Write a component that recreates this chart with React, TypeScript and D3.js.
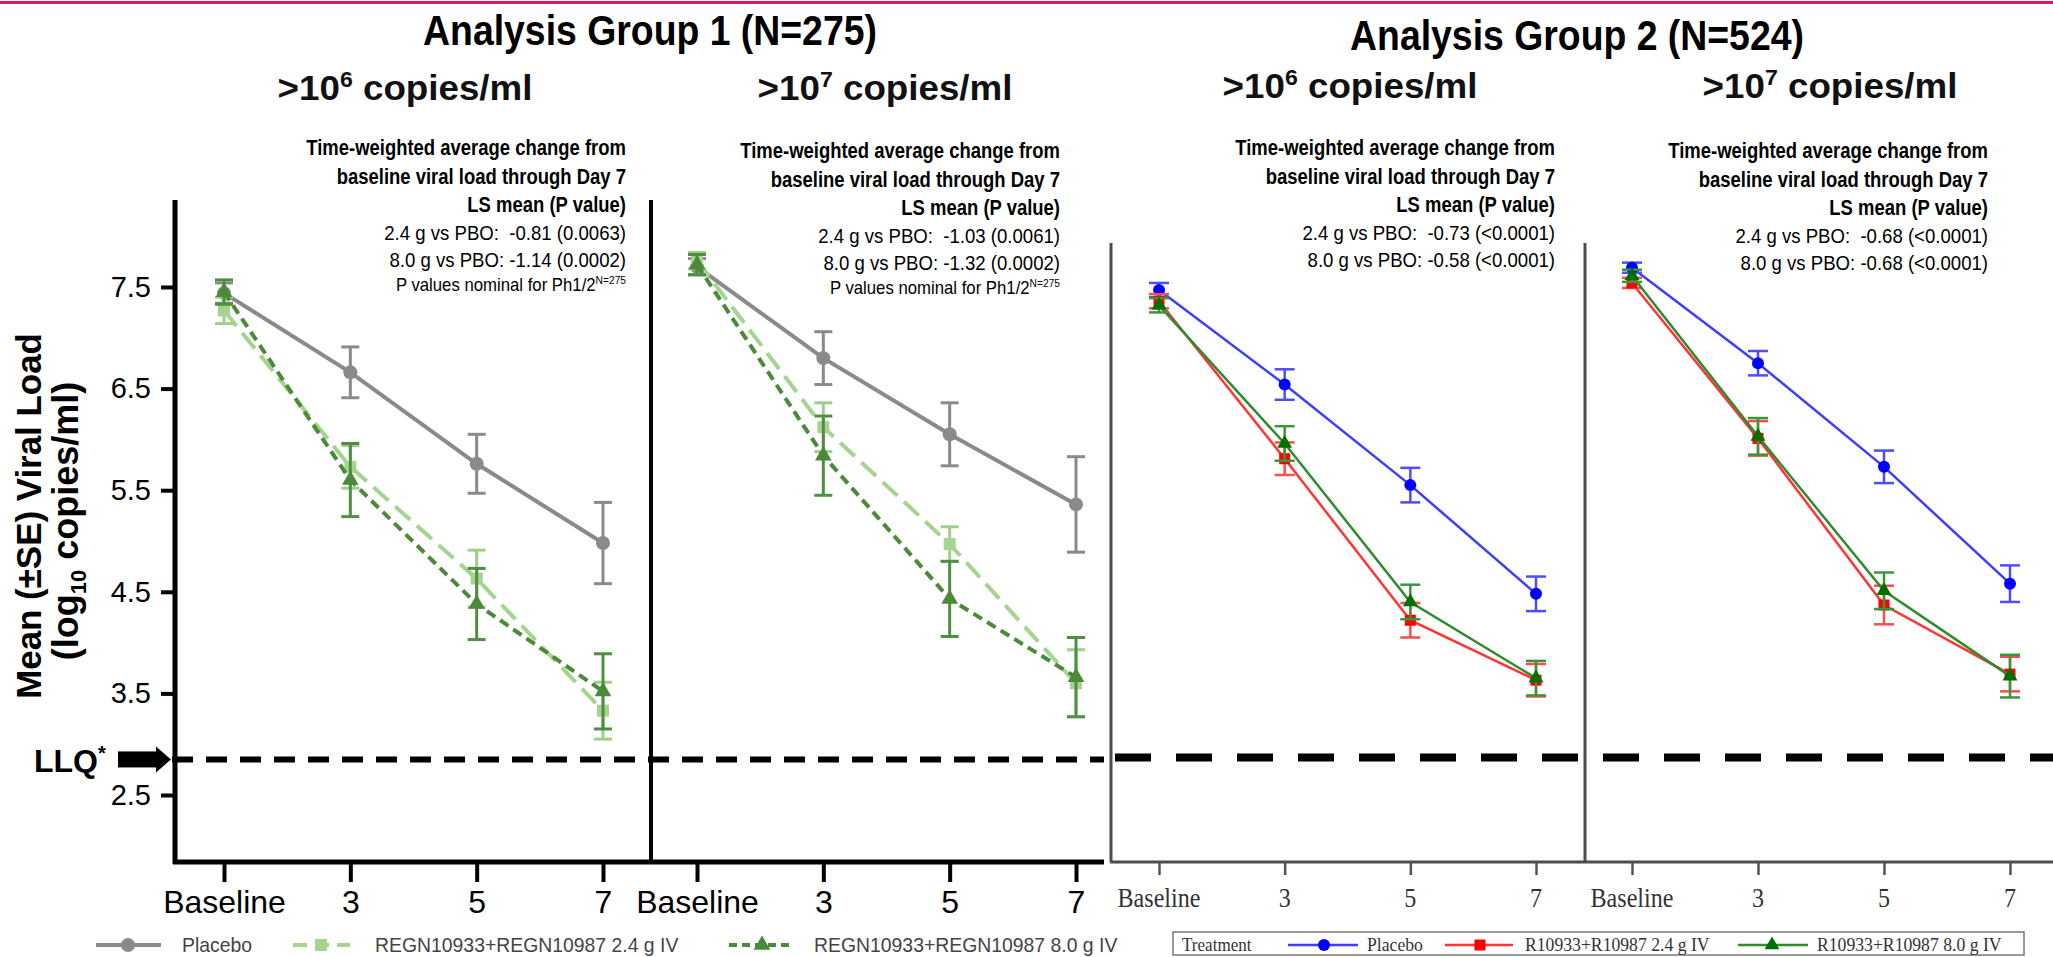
import React, { useEffect, useRef } from 'react';
import * as d3 from 'd3';

// x categories and y ticks
const days = ['Baseline', '3', '5', '7'];
const yTicks = [2.5, 3.5, 4.5, 5.5, 6.5, 7.5];
const llq = 2.85;

// Analysis group 1 (N=275), >10^6 copies/ml
const g1a_placebo = [7.44, 6.66, 5.76, 4.98];
const g1a_placebo_se = [0.10, 0.25, 0.29, 0.40];
const g1a_low = [7.27, 5.73, 4.63, 3.33];
const g1a_low_se = [0.13, 0.21, 0.28, 0.28];
const g1a_high = [7.45, 5.60, 4.38, 3.52];
const g1a_high_se = [0.12, 0.36, 0.35, 0.37];

// Analysis group 1, >10^7 copies/ml
const g1b_placebo = [7.70, 6.80, 6.05, 5.36];
const g1b_placebo_se = [0.08, 0.26, 0.31, 0.47];
const g1b_low = [7.76, 6.12, 4.97, 3.60];
const g1b_low_se = [0.08, 0.24, 0.17, 0.33];
const g1b_high = [7.72, 5.84, 4.43, 3.66];
const g1b_high_se = [0.10, 0.39, 0.37, 0.39];

// Analysis group 2 (N=524), >10^6 copies/ml
const g2a_placebo = [7.47, 6.54, 5.55, 4.48];
const g2a_placebo_se = [0.07, 0.15, 0.17, 0.17];
const g2a_low = [7.36, 5.81, 4.22, 3.63];
const g2a_low_se = [0.07, 0.16, 0.17, 0.16];
const g2a_high = [7.32, 5.96, 4.40, 3.65];
const g2a_high_se = [0.07, 0.17, 0.17, 0.17];

// Analysis group 2, >10^7 copies/ml
const g2b_placebo = [7.69, 6.75, 5.73, 4.58];
const g2b_placebo_se = [0.05, 0.12, 0.16, 0.18];
const g2b_low = [7.54, 6.01, 4.37, 3.69];
const g2b_low_se = [0.05, 0.17, 0.19, 0.17];
const g2b_high = [7.61, 6.03, 4.51, 3.67];
const g2b_high_se = [0.06, 0.18, 0.18, 0.21];

const groupTitles = ['Analysis Group 1 (N=275)', 'Analysis Group 2 (N=524)'];
const headNotes = ['Time-weighted average change from', 'baseline viral load through Day 7', 'LS mean (P value)'];
const notes1 = ['2.4 g vs PBO:  -0.81 (0.0063)', '8.0 g vs PBO: -1.14 (0.0002)'];
const notes2 = ['2.4 g vs PBO:  -1.03 (0.0061)', '8.0 g vs PBO: -1.32 (0.0002)'];
const notes3 = ['2.4 g vs PBO:  -0.73 (<0.0001)', '8.0 g vs PBO: -0.58 (<0.0001)'];
const notes4 = ['2.4 g vs PBO:  -0.68 (<0.0001)', '8.0 g vs PBO: -0.68 (<0.0001)'];
const legend1 = ['Placebo', 'REGN10933+REGN10987 2.4 g IV', 'REGN10933+REGN10987 8.0 g IV'];
const legend2 = ['Placebo', 'R10933+R10987 2.4 g IV', 'R10933+R10987 8.0 g IV'];

const sans = 'Liberation Sans, Arial, Helvetica, sans-serif';
const serif = 'Liberation Serif, Times New Roman, serif';

const style1 = [
  { line: '#8a8a8a', err: '#8a8a8a', marker: '#8a8a8a', lw: 4, dash: null, shape: 'circle' },
  { line: '#a4d48f', err: '#9fd08a', marker: '#a4d48f', lw: 4, dash: '20,9', shape: 'square' },
  { line: '#4b8a38', err: '#4f9040', marker: '#4b8a38', lw: 4, dash: '10,6', shape: 'triangle' },
];
const style2 = [
  { line: '#3d3dff', err: '#4d4dff', marker: '#0000ff', lw: 2.5, dash: null, shape: 'circle' },
  { line: '#ff3535', err: '#ff4d4d', marker: '#ff0000', lw: 2.5, dash: null, shape: 'square' },
  { line: '#2e8b2e', err: '#3a963a', marker: '#007000', lw: 2.5, dash: null, shape: 'triangle' },
];

function marker(g, shape, cx, cy, color, big) {
  if (shape === 'circle') {
    g.append('circle').attr('cx', cx).attr('cy', cy).attr('r', big ? 7 : 6).attr('fill', color);
  } else if (shape === 'square') {
    const s = big ? 12 : 11;
    g.append('rect').attr('x', cx - s / 2).attr('y', cy - s / 2).attr('width', s).attr('height', s).attr('fill', color);
  } else {
    g.append('path')
      .attr('transform', `translate(${cx},${cy})`)
      .attr('d', d3.symbol().type(d3.symbolTriangle).size(big ? 120 : 95)())
      .attr('fill', color);
  }
}

export default function App() {
  const ref = useRef(null);

  useEffect(() => {
    const svg = d3.select(ref.current);
    svg.selectAll('*').remove();

    const y = d3.scaleLinear().domain([2.5, 7.5]).range([795, 287]);
    const axisY = 862;

    const panels = [
      { group: 1, range: [224, 603], exp: '6', subX: 405, subY: 100, right: 626, top: 155, notes: notes1, foot: true,
        series: [[g1a_placebo, g1a_placebo_se], [g1a_low, g1a_low_se], [g1a_high, g1a_high_se]] },
      { group: 1, range: [697, 1076], exp: '7', subX: 885, subY: 100, right: 1060, top: 158, notes: notes2, foot: true,
        series: [[g1b_placebo, g1b_placebo_se], [g1b_low, g1b_low_se], [g1b_high, g1b_high_se]] },
      { group: 2, range: [1159, 1536], exp: '6', subX: 1350, subY: 98, right: 1555, top: 155, notes: notes3, foot: false,
        series: [[g2a_placebo, g2a_placebo_se], [g2a_low, g2a_low_se], [g2a_high, g2a_high_se]] },
      { group: 2, range: [1632, 2010], exp: '7', subX: 1830, subY: 98, right: 1988, top: 158, notes: notes4, foot: false,
        series: [[g2b_placebo, g2b_placebo_se], [g2b_low, g2b_low_se], [g2b_high, g2b_high_se]] },
    ];

    // top rule
    svg.append('line').attr('x1', 0).attr('x2', 2053).attr('y1', 2.5).attr('y2', 2.5)
      .attr('stroke', '#d81b60').attr('stroke-width', 3);

    // group titles
    [[650, 45], [1577, 50]].forEach(([cx, by], i) => {
      svg.append('text').attr('transform', `translate(${cx},${by}) scale(0.89,1)`)
        .attr('text-anchor', 'middle').attr('font-family', sans).attr('font-size', 42)
        .attr('font-weight', 'bold').attr('fill', '#000').text(groupTitles[i]);
    });

    panels.forEach((p) => {
      // subtitle
      const sub = svg.append('text').attr('transform', `translate(${p.subX},${p.subY}) scale(1.05,1)`)
        .attr('text-anchor', 'middle').attr('font-family', sans).attr('font-size', 35)
        .attr('font-weight', 'bold').attr('fill', '#111').style('white-space', 'pre');
      sub.append('tspan').text('>10');
      sub.append('tspan').attr('font-size', 22).attr('dy', -13).text(p.exp);
      sub.append('tspan').attr('dy', 13).text(' copies/ml');

      // annotation block
      const offs = [0, 29, 57, 85, 112, 136];
      headNotes.forEach((t, i) => {
        svg.append('text').attr('transform', `translate(${p.right},${p.top + offs[i]}) scale(0.84,1)`)
          .attr('text-anchor', 'end').attr('font-family', sans).attr('font-size', 22)
          .attr('font-weight', 'bold').attr('fill', '#000').text(t);
      });
      p.notes.forEach((t, i) => {
        svg.append('text').attr('transform', `translate(${p.right},${p.top + offs[i + 3]}) scale(0.93,1)`)
          .attr('text-anchor', 'end').attr('font-family', sans).attr('font-size', 20)
          .attr('fill', '#000').style('white-space', 'pre').text(t);
      });
      if (p.foot) {
        const f = svg.append('text').attr('transform', `translate(${p.right},${p.top + offs[5]}) scale(0.93,1)`)
          .attr('text-anchor', 'end').attr('font-family', sans).attr('font-size', 18).attr('fill', '#000');
        f.append('tspan').text('P values nominal for Ph1/2');
        f.append('tspan').attr('font-size', 11).attr('dy', -7).text('N=275');
      }

      const x = d3.scalePoint().domain(days).range(p.range);
      const st = p.group === 1 ? style1 : style2;
      const capW = p.group === 1 ? 9 : 10;
      const g = svg.append('g');

      p.series.forEach(([mean, se], k) => {
        const s = st[k];
        const pts = mean.map((m, i) => [x(days[i]), y(m)]);
        g.append('path').attr('d', d3.line()(pts)).attr('fill', 'none')
          .attr('stroke', s.line).attr('stroke-width', s.lw)
          .attr('stroke-dasharray', s.dash);
        mean.forEach((m, i) => {
          const cx = x(days[i]);
          const y0 = y(m - se[i]), y1 = y(m + se[i]);
          const ew = p.group === 1 ? 3 : 2.5;
          g.append('line').attr('x1', cx).attr('x2', cx).attr('y1', y0).attr('y2', y1)
            .attr('stroke', s.err).attr('stroke-width', ew);
          [y0, y1].forEach((yy) => {
            g.append('line').attr('x1', cx - capW).attr('x2', cx + capW).attr('y1', yy).attr('y2', yy)
              .attr('stroke', s.err).attr('stroke-width', ew);
          });
        });
        mean.forEach((m, i) => marker(g, s.shape, x(days[i]), y(m), s.marker, p.group === 1));
      });

      // x axis ticks + labels
      if (p.group === 1) {
        const ax = svg.append('g').attr('transform', `translate(0,${axisY})`)
          .call(d3.axisBottom(x).tickSize(20).tickPadding(8));
        ax.select('.domain').remove();
        ax.selectAll('line').attr('stroke', '#000').attr('stroke-width', 4);
        ax.selectAll('text').attr('font-family', sans).attr('font-size', 32).attr('fill', '#000');
      } else {
        const ax = svg.append('g').attr('transform', `translate(0,${axisY})`)
          .call(d3.axisBottom(x).tickSize(13).tickFormat(() => ''));
        ax.select('.domain').remove();
        ax.selectAll('line').attr('stroke', '#555').attr('stroke-width', 2.5);
        days.forEach((d) => {
          svg.append('text').attr('transform', `translate(${x(d)},907) scale(0.86,1)`)
            .attr('text-anchor', 'middle').attr('font-family', serif).attr('font-size', 28)
            .attr('fill', '#333').text(d);
        });
      }
    });

    // group 1 y axis
    const yAx = svg.append('g').attr('transform', 'translate(175,0)')
      .call(d3.axisLeft(y).tickValues(yTicks).tickSize(14).tickPadding(10).tickFormat(d3.format('.1f')));
    yAx.select('.domain').remove();
    yAx.selectAll('line').attr('stroke', '#000').attr('stroke-width', 4);
    yAx.selectAll('text').attr('font-family', sans).attr('font-size', 29).attr('fill', '#000');

    // group 1 frame
    svg.append('line').attr('x1', 175).attr('x2', 175).attr('y1', 200).attr('y2', axisY + 2)
      .attr('stroke', '#000').attr('stroke-width', 5);
    svg.append('line').attr('x1', 651).attr('x2', 651).attr('y1', 200).attr('y2', axisY)
      .attr('stroke', '#000').attr('stroke-width', 4);
    svg.append('line').attr('x1', 173).attr('x2', 1104).attr('y1', axisY).attr('y2', axisY)
      .attr('stroke', '#000').attr('stroke-width', 5);

    // group 2 frame
    svg.append('line').attr('x1', 1111).attr('x2', 1111).attr('y1', 243).attr('y2', axisY)
      .attr('stroke', '#4d4d4d').attr('stroke-width', 3);
    svg.append('line').attr('x1', 1585).attr('x2', 1585).attr('y1', 243).attr('y2', axisY)
      .attr('stroke', '#4d4d4d').attr('stroke-width', 3);
    svg.append('line').attr('x1', 1110).attr('x2', 2053).attr('y1', axisY).attr('y2', axisY)
      .attr('stroke', '#4d4d4d').attr('stroke-width', 3);

    // LLQ lines
    svg.append('line').attr('x1', 172).attr('x2', 1104).attr('y1', y(llq)).attr('y2', y(llq))
      .attr('stroke', '#000').attr('stroke-width', 6).attr('stroke-dasharray', '21,13');
    svg.append('line').attr('x1', 1115).attr('x2', 2053).attr('y1', y(llq) - 2).attr('y2', y(llq) - 2)
      .attr('stroke', '#000').attr('stroke-width', 8).attr('stroke-dasharray', '36,25');

    // LLQ arrow + label
    const ly = y(llq);
    svg.append('rect').attr('x', 118).attr('y', ly - 8).attr('width', 40).attr('height', 16).attr('fill', '#000');
    svg.append('path').attr('d', `M156,${ly - 13} L171,${ly} L156,${ly + 13} Z`).attr('fill', '#000');
    const llqT = svg.append('text').attr('x', 34).attr('y', ly + 13).attr('font-family', sans)
      .attr('font-size', 32).attr('font-weight', 'bold').attr('fill', '#000');
    llqT.append('tspan').text('LLQ');
    llqT.append('tspan').attr('font-size', 20).attr('dy', -12).text('*');

    // y title
    svg.append('text').attr('transform', 'translate(41,516) rotate(-90) scale(0.97,1)')
      .attr('text-anchor', 'middle').attr('font-family', sans).attr('font-size', 36)
      .attr('font-weight', 'bold').attr('fill', '#000').text('Mean (±SE) Viral Load');
    const yt2 = svg.append('text').attr('transform', 'translate(78,521) rotate(-90)')
      .attr('text-anchor', 'middle').attr('font-family', sans).attr('font-size', 36)
      .attr('font-weight', 'bold').attr('fill', '#000').style('white-space', 'pre');
    yt2.append('tspan').text('(log');
    yt2.append('tspan').attr('font-size', 22).attr('dy', 8).text('10');
    yt2.append('tspan').attr('dy', -8).text(' copies/ml)');

    // legend group 1
    const lgY = 945;
    const lg1 = [
      { x0: 96, x1: 161, mx: 128, tx: 182 },
      { x0: 293, x1: 350, mx: 321, tx: 375 },
      { x0: 729, x1: 793, mx: 762, tx: 814 },
    ];
    lg1.forEach((l, i) => {
      const s = style1[i];
      svg.append('line').attr('x1', l.x0).attr('x2', l.x1).attr('y1', lgY).attr('y2', lgY)
        .attr('stroke', s.line).attr('stroke-width', 4)
        .attr('stroke-dasharray', i === 0 ? null : i === 1 ? '14,8' : '8,5');
      marker(svg, s.shape, l.mx, lgY, s.marker, true);
      svg.append('text').attr('transform', `translate(${l.tx},${lgY + 7}) scale(0.97,1)`)
        .attr('font-family', sans).attr('font-size', 20).attr('fill', '#444').text(legend1[i]);
    });

    // legend group 2
    svg.append('rect').attr('x', 1173).attr('y', 932).attr('width', 851).attr('height', 23)
      .attr('fill', 'none').attr('stroke', '#777').attr('stroke-width', 1.5);
    svg.append('text').attr('transform', `translate(1182,${lgY + 6}) scale(0.9,1)`)
      .attr('font-family', serif).attr('font-size', 19).attr('fill', '#333').text('Treatment');
    const lg2 = [
      { x0: 1288, x1: 1358, mx: 1324, tx: 1367 },
      { x0: 1445, x1: 1513, mx: 1480, tx: 1525 },
      { x0: 1738, x1: 1808, mx: 1772, tx: 1817 },
    ];
    lg2.forEach((l, i) => {
      const s = style2[i];
      svg.append('line').attr('x1', l.x0).attr('x2', l.x1).attr('y1', lgY).attr('y2', lgY)
        .attr('stroke', s.line).attr('stroke-width', 2.5);
      marker(svg, s.shape, l.mx, lgY, s.marker, false);
      svg.append('text').attr('transform', `translate(${l.tx},${lgY + 6}) scale(0.93,1)`)
        .attr('font-family', serif).attr('font-size', 19).attr('fill', '#333').text(legend2[i]);
    });
  }, []);

  return (
    <svg
      ref={ref}
      width={2053}
      height={957}
      style={{ position: 'absolute', left: 0, top: 0, display: 'block', background: '#fff' }}
    />
  );
}
